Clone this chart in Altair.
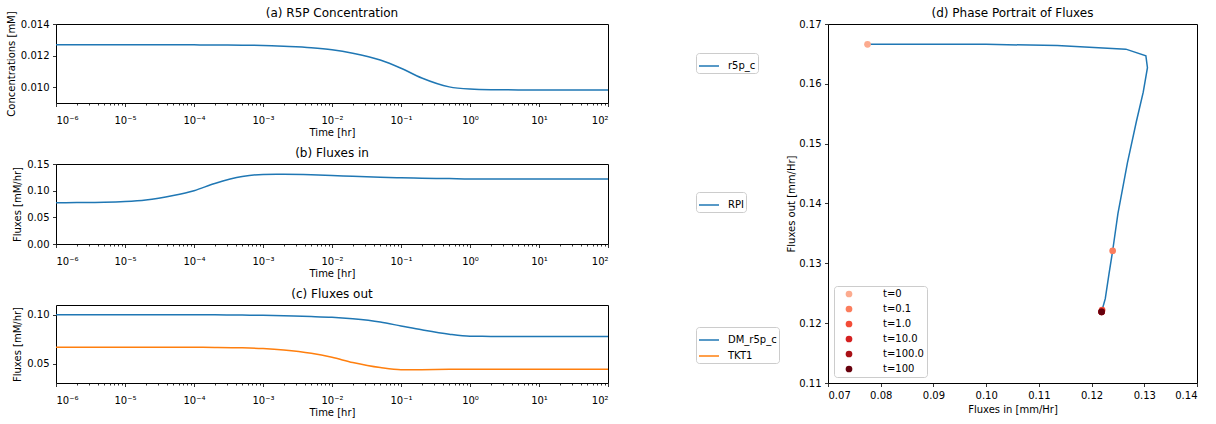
import altair as alt
import pandas as pd

# ---------------- data ----------------
T = [1e-6, 2e-6, 5e-6, 1e-5, 2e-5, 5e-5, 1e-4, 2e-4, 5e-4, 1e-3, 2e-3, 5e-3,
     1e-2, 2e-2, 5e-2, 1e-1, 2e-1, 5e-1, 1.0, 2.0, 5.0, 10.0, 100.0]
R5P = [0.01268, 0.01268, 0.01268, 0.01268, 0.01268, 0.01268, 0.01268, 0.01267,
       0.01266, 0.01264, 0.01259, 0.01250, 0.01237, 0.01215, 0.01172, 0.01120,
       0.01058, 0.01002, 0.00988, 0.00984, 0.00983, 0.00983, 0.00983]
RPI = [0.0775, 0.0777, 0.0783, 0.0797, 0.0826, 0.0910, 0.1000, 0.1135, 0.1265,
       0.1303, 0.1306, 0.1298, 0.1285, 0.1268, 0.1250, 0.1240, 0.1233, 0.1226,
       0.1220, 0.1219, 0.1219, 0.1219, 0.1219]
DM = [0.1000, 0.1000, 0.1000, 0.1000, 0.1000, 0.1000, 0.1000, 0.0999, 0.0997,
      0.0994, 0.0989, 0.0982, 0.0974, 0.0958, 0.0925, 0.0885, 0.0845, 0.0800,
      0.0780, 0.0778, 0.0777, 0.0777, 0.0777]
TKT1 = [0.0666, 0.0666, 0.0666, 0.0666, 0.0666, 0.0666, 0.0666, 0.0665, 0.0661,
        0.0653, 0.0638, 0.0604, 0.0563, 0.0510, 0.0458, 0.0436, 0.0437, 0.0441,
        0.0442, 0.0442, 0.0442, 0.0442, 0.0442]

MAJOR = [1e-6, 1e-5, 1e-4, 1e-3, 1e-2, 1e-1, 1e0, 1e1, 1e2]
MINOR = [k * 10.0 ** e for e in range(-6, 2) for k in range(2, 10)]
EXP_LABELS = ["10⁻⁶", "10⁻⁵", "10⁻⁴", "10⁻³", "10⁻²", "10⁻¹", "10⁰", "10¹", "10²"]

TITLES = ["(a) R5P Concentration", "(b) Fluxes in", "(c) Fluxes out",
          "(d) Phase Portrait of Fluxes"]

MARK_LABELS = ["t=0", "t=0.1", "t=1.0", "t=10.0", "t=100.0", "t=100"]
MARK_TIMES = [1e-6, 1e-1, 1.0, 10.0, 100.0, 100.0]
MARK_COLORS = ["#fcab8f", "#fb7d5d", "#f34c37", "#d42020", "#a91016", "#67000d"]

FONT = "DejaVu Sans"
BLUE = "#1f77b4"
ORANGE = "#ff7f0e"

label_expr = "[" + ",".join("'%s'" % s for s in EXP_LABELS) + "][round(log(datum.value)/LN10)+6]"


def title_layer(text, width):
    return alt.Chart(pd.DataFrame({"title": [text]})).mark_text(
        font=FONT, fontSize=12, align="center", baseline="middle", color="black"
    ).encode(text="title:N", x=alt.value(width / 2), y=alt.value(-11))


def time_panel(df, title, ytitle, ydomain, yticks, yfmt, series, colors,
               height, legend_y):
    xscale = alt.Scale(type="log", domain=[1e-6, 100], nice=False)
    line = alt.Chart(df).mark_line(strokeWidth=1.5, interpolate="monotone", clip=True).encode(
        x=alt.X("t:Q", scale=xscale,
                axis=alt.Axis(values=MAJOR, labelExpr=label_expr, title="Time [hr]",
                              labelPadding=8.5, titlePadding=2)),
        y=alt.Y("value:Q", scale=alt.Scale(domain=ydomain, nice=False, zero=False),
                axis=alt.Axis(values=yticks, format=yfmt, title=ytitle)),
        color=alt.Color("series:N", sort=series,
                        scale=alt.Scale(domain=series, range=colors),
                        legend=alt.Legend(orient="none", legendX=640, legendY=legend_y,
                                          title=None, symbolType="stroke",
                                          symbolSize=400, symbolStrokeWidth=1.5,
                                          padding=2, rowPadding=-1, labelOffset=8)),
    )
    minor = alt.Chart(df).mark_point(opacity=0).encode(
        x=alt.X("t:Q", scale=xscale,
                axis=alt.Axis(values=MINOR, labels=False, tickSize=2, title=None,
                              orient="bottom", domain=False, grid=False)),
    )
    return (alt.layer(line, minor, title_layer(title, 552))
            .resolve_axis(x="independent")
            .properties(width=552, height=height))


df_a = pd.DataFrame({"t": T, "value": R5P, "series": "r5p_c"})
df_b = pd.DataFrame({"t": T, "value": RPI, "series": "RPI"})
df_c = pd.concat([
    pd.DataFrame({"t": T, "value": DM, "series": "DM_r5p_c"}),
    pd.DataFrame({"t": T, "value": TKT1, "series": "TKT1"}),
])

pa = time_panel(df_a, TITLES[0], "Concentrations [mM]", [0.009, 0.014],
                [0.010, 0.012, 0.014], ".3f", ["r5p_c"], [BLUE], 79, 29)
pb = time_panel(df_b, TITLES[1], "Fluxes [mM/hr]", [0.0, 0.15],
                [0.0, 0.05, 0.10, 0.15], ".2f", ["RPI"], [BLUE], 80, 28)
pc = time_panel(df_c, TITLES[2], "Fluxes [mM/hr]", [0.03, 0.11],
                [0.05, 0.10], ".2f", ["DM_r5p_c", "TKT1"], [BLUE, ORANGE], 78, 22)

left = alt.vconcat(pa, pb, pc, spacing=61, bounds="flush").resolve_scale(color="independent")

# phase portrait
OUT = [d + k for d, k in zip(DM, TKT1)]
df_p = pd.DataFrame({"fin": RPI, "fout": OUT, "idx": list(range(len(T)))})
df_m = pd.DataFrame({
    "label": MARK_LABELS,
    "fin": [RPI[T.index(t)] for t in MARK_TIMES],
    "fout": [OUT[T.index(t)] for t in MARK_TIMES],
})

xs = alt.X("fin:Q", scale=alt.Scale(domain=[0.07, 0.14], nice=False, zero=False),
           axis=alt.Axis(values=[0.07, 0.08, 0.09, 0.10, 0.11, 0.12, 0.13, 0.14],
                         format=".2f", title="Fluxes in [mm/Hr]"))
ys = alt.Y("fout:Q", scale=alt.Scale(domain=[0.11, 0.17], nice=False, zero=False),
           axis=alt.Axis(values=[0.11, 0.12, 0.13, 0.14, 0.15, 0.16, 0.17],
                         format=".2f", title="Fluxes out [mm/Hr]", titlePadding=2))

pline = alt.Chart(df_p).mark_line(color=BLUE, strokeWidth=1.5).encode(
    x=xs, y=ys, order="idx:Q")
pdots = alt.Chart(df_m).mark_circle(size=45, opacity=1).encode(
    x=xs, y=ys,
    color=alt.Color("label:N", sort=MARK_LABELS,
                    scale=alt.Scale(domain=MARK_LABELS, range=MARK_COLORS),
                    legend=alt.Legend(orient="none", legendX=6, legendY=262, title=None,
                                      symbolType="circle", symbolSize=45,
                                      padding=3, rowPadding=5, symbolOffset=7,
                                      labelOffset=29)),
)
pd_ = alt.layer(pline, pdots, title_layer(TITLES[3], 369)).properties(width=369, height=359)

chart = (alt.hconcat(left, pd_, spacing=772, bounds="flush")
         .resolve_scale(color="independent")
         .properties(padding={"left": 5, "top": 6, "right": 0, "bottom": 0},
                     background="white")
         .configure_view(stroke="black", strokeWidth=1)
         .configure_axis(labelFont=FONT, labelFontSize=10, labelColor="black",
                         titleFont=FONT, titleFontSize=10, titleFontWeight="normal",
                         titleColor="black", tickColor="black", tickWidth=0.8,
                         tickSize=3.5, labelPadding=3.5, domain=False, grid=False,
                         titlePadding=4)
         .configure_legend(labelFont=FONT, labelFontSize=10, labelColor="black",
                           strokeColor="#cccccc", fillColor="white", cornerRadius=3))

chart.save("out.html", embed_options={"renderer": "svg", "actions": False})
